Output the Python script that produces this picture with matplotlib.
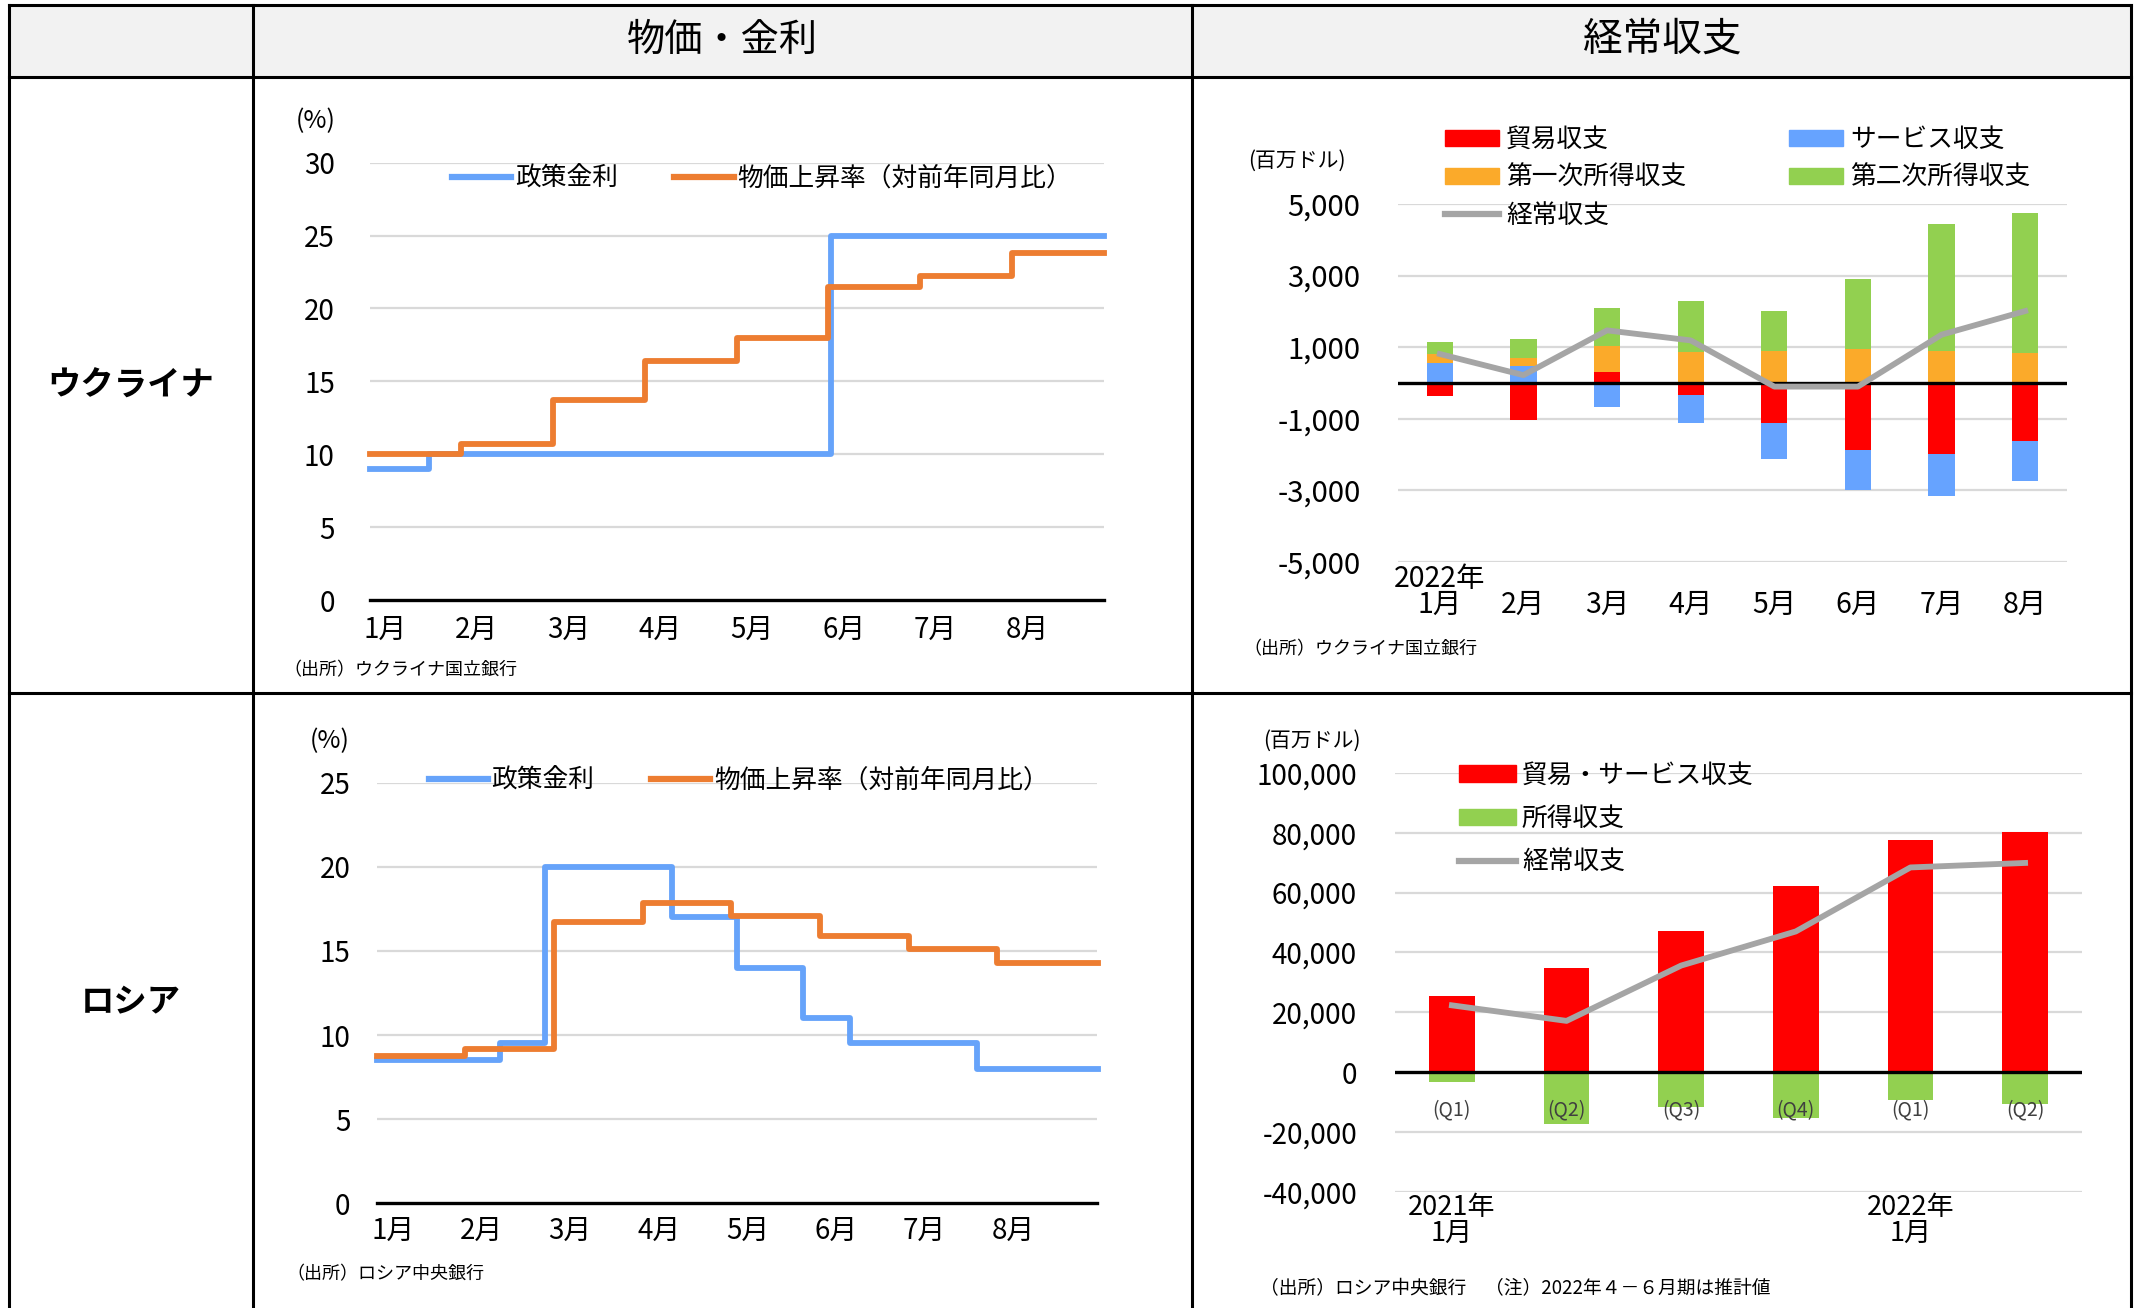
import matplotlib
matplotlib.use('Agg')
import matplotlib.pyplot as plt
from matplotlib.lines import Line2D
from matplotlib.patches import Rectangle, Patch
import numpy as np
import pandas as pd

plt.rcParams['font.family'] = ['Noto Sans CJK JP', 'DejaVu Sans']
plt.rcParams['axes.unicode_minus'] = False

W, H, DPI = 2136, 1308, 100

# ---------------- data ----------------
header_titles = ['物価・金利', '経常収支']
row_titles = ['ウクライナ', 'ロシア']
month_labels = ['1月', '2月', '3月', '4月', '5月', '6月', '7月', '8月']
rate_legend = ['政策金利', '物価上昇率（対前年同月比）']

# Ukraine: policy rate / CPI (%), step changes by date
ua_rate_dates = ['2022-01-01', '2022-01-21', '2022-06-02', '2022-09-01']
ua_rate_values = [9.0, 10.0, 25.0, 25.0]
ua_cpi_dates = ['2022-01-01', '2022-02-01', '2022-03-01', '2022-04-01', '2022-05-01',
                '2022-06-01', '2022-07-01', '2022-08-01', '2022-09-01']
ua_cpi_values = [10.0, 10.7, 13.7, 16.4, 18.0, 21.5, 22.2, 23.8, 23.8]

# Russia: policy rate / CPI (%)
ru_rate_dates = ['2022-01-01', '2022-02-12', '2022-02-26', '2022-04-11', '2022-05-03',
                 '2022-05-26', '2022-06-11', '2022-07-25', '2022-09-05']
ru_rate_values = [8.5, 9.5, 20.0, 17.0, 14.0, 11.0, 9.5, 8.0, 8.0]
ru_cpi_dates = ['2022-01-01', '2022-02-01', '2022-03-01', '2022-04-01', '2022-05-01',
                '2022-06-01', '2022-07-01', '2022-08-01', '2022-09-05']
ru_cpi_values = [8.73, 9.15, 16.69, 17.83, 17.1, 15.9, 15.1, 14.3, 14.3]

# Ukraine current account (million USD)
ua_ca_labels = ['2022年\n1月', '2月', '3月', '4月', '5月', '6月', '7月', '8月']
ua_ca_legend = ['貿易収支', 'サービス収支', '第一次所得収支', '第二次所得収支', '経常収支']
ua_trade = [-360, -1030, 310, -330, -1110, -1860, -1990, -1630]
ua_services = [550, 470, -660, -780, -1020, -1140, -1180, -1110]
ua_primary = [260, 240, 720, 860, 880, 940, 890, 830]
ua_secondary = [330, 510, 1070, 1430, 1130, 1960, 3560, 3920]
ua_current = [810, 220, 1470, 1190, -100, -100, 1350, 2010]
ua_ca_ticks = [-5000, -3000, -1000, 1000, 3000, 5000]

# Russia current account (million USD), quarterly
ru_quarters = ['(Q1)', '(Q2)', '(Q3)', '(Q4)', '(Q1)', '(Q2)']
ru_year_labels = ['2021年\n1月', '', '', '', '2022年\n1月', '']
ru_ca_legend = ['貿易・サービス収支', '所得収支', '経常収支']
ru_goods_services = [25500, 34700, 47200, 62100, 77500, 80400]
ru_income = [-3400, -17500, -11800, -15300, -9300, -10600]
ru_current = [22300, 17100, 35600, 47000, 68400, 69900]
ru_ca_ticks = [-40000, -20000, 0, 20000, 40000, 60000, 80000, 100000]

source_ua = '（出所）ウクライナ国立銀行'
source_ru_rate = '（出所）ロシア中央銀行'
source_ru_ca = '（出所）ロシア中央銀行　（注）2022年４－６月期は推計値'

# ---------------- styles ----------------
C_BLUE = '#66A3FA'
C_ORANGE = '#ED7D31'
C_RED = '#FF0000'
C_SBLUE = '#66A3FF'
C_YEL = '#FBAA2A'
C_GREEN = '#92D050'
C_GRAY = '#A5A5A5'
C_GRID = '#D9D9D9'


def fx(x):
    return x / W


def fy(y):
    return 1 - y / H


def month_pos(dates):
    d = pd.to_datetime(pd.Series(dates))
    return ((d.dt.month - 1) + (d.dt.day - 1) / d.dt.days_in_month).to_numpy(dtype=float)


fig = plt.figure(figsize=(W / DPI, H / DPI), dpi=DPI)
fig.patch.set_facecolor('white')

# ---------------- table frame ----------------
fig.add_artist(Rectangle((fx(9), fy(77)), fx(2131) - fx(9), fy(5) - fy(77),
                         transform=fig.transFigure, facecolor='#F2F2F2',
                         edgecolor='none', zorder=0))
for yy in [5, 77, 693]:
    fig.add_artist(Line2D([fx(9), fx(2131)], [fy(yy), fy(yy)], transform=fig.transFigure,
                          color='black', lw=2.2, zorder=10))
for xx in [9, 253, 1192, 2131]:
    fig.add_artist(Line2D([fx(xx), fx(xx)], [fy(5), fy(1320)], transform=fig.transFigure,
                          color='black', lw=2.2, zorder=10))

fig.text(fx(722), fy(40), header_titles[0], fontsize=27.5, ha='center', va='center')
fig.text(fx(1662), fy(40), header_titles[1], fontsize=28.5, ha='center', va='center')
fig.text(fx(131), fy(386), row_titles[0], fontsize=24, fontweight='bold', ha='center', va='center')
fig.text(fx(131), fy(1003), row_titles[1], fontsize=24, fontweight='bold', ha='center', va='center')


def add_ax(L, T, R, B):
    ax = fig.add_axes([fx(L), fy(B), fx(R) - fx(L), fy(T) - fy(B)])
    ax.set_facecolor('none')
    for s in ax.spines.values():
        s.set_visible(False)
    ax.tick_params(length=0)
    return ax


def rates_chart(ax, rd, rv, cd, cv, ymax, xmax, tick_off, ypad, xpad, leg_xy):
    ax.set_ylim(0, ymax)
    ax.set_xlim(0, xmax)
    yt = np.arange(0, ymax + 1, 5)
    ax.set_yticks(yt)
    ax.set_yticklabels([f'{int(v)}' for v in yt], fontsize=20)
    ax.set_xticks(np.arange(len(month_labels)) + tick_off)
    ax.set_xticklabels(month_labels, fontsize=20)
    ax.tick_params(axis='y', pad=ypad)
    ax.tick_params(axis='x', pad=xpad)
    for v in yt[1:]:
        ax.axhline(v, color=C_GRID, lw=1.6, zorder=1)
    ax.axhline(0, color='black', lw=2.4, zorder=2, clip_on=False)
    ax.plot(month_pos(rd), rv, drawstyle='steps-post', color=C_BLUE, lw=4.2,
            zorder=4, clip_on=False, solid_joinstyle='round')
    ax.plot(month_pos(cd), cv, drawstyle='steps-post', color=C_ORANGE, lw=4.2,
            zorder=5, clip_on=False, solid_joinstyle='round')
    handles = [Line2D([], [], color=C_BLUE, lw=4.5), Line2D([], [], color=C_ORANGE, lw=4.5)]
    ax.legend(handles, rate_legend, ncol=2, loc='center left',
              bbox_to_anchor=(fx(leg_xy[0]), fy(leg_xy[1])), bbox_transform=fig.transFigure,
              frameon=False, fontsize=18.5, handlelength=2.3, handletextpad=0.15,
              columnspacing=2.2, borderpad=0, borderaxespad=0)


# ---------------- Ukraine rates ----------------
ax1 = add_ax(369.5, 162.7, 1103.5, 600)
rates_chart(ax1, ua_rate_dates, ua_rate_values, ua_cpi_dates, ua_cpi_values,
            30, 8.0, 0.17, 25, 11, (452, 179))
fig.text(fx(316), fy(121), '(%)', fontsize=18, ha='center', va='center')
fig.text(fx(283), fy(670), source_ua, fontsize=13, ha='left', va='center')

# ---------------- Russia rates ----------------
ax3 = add_ax(376.8, 782.6, 1097.4, 1203.3)
rates_chart(ax3, ru_rate_dates, ru_rate_values, ru_cpi_dates, ru_cpi_values,
            25, 8.13, 0.18, 19, 9, (428.5, 781))
fig.text(fx(330), fy(741), '(%)', fontsize=18, ha='center', va='center')
fig.text(fx(286), fy(1274), source_ru_rate, fontsize=13, ha='left', va='center')


def stacked(ax, x, series, colors, width):
    pos = np.zeros(len(x))
    neg = np.zeros(len(x))
    for vals, c in zip(series, colors):
        vals = np.asarray(vals, dtype=float)
        bottom = np.where(vals >= 0, pos, neg)
        ax.bar(x, vals, width, bottom=bottom, color=c, zorder=2, linewidth=0)
        pos = np.where(vals >= 0, pos + vals, pos)
        neg = np.where(vals < 0, neg + vals, neg)


# ---------------- Ukraine current account ----------------
ax2 = add_ax(1398, 204, 2067, 562)
xu = np.arange(len(ua_ca_labels))
ax2.set_xlim(-0.5, len(xu) - 0.5)
ax2.set_ylim(-5000, 5000)
stacked(ax2, xu, [ua_trade, ua_services, ua_primary, ua_secondary],
        [C_RED, C_SBLUE, C_YEL, C_GREEN], 0.315)
for v in ua_ca_ticks:
    ax2.axhline(v, color=C_GRID, lw=1.6, zorder=1)
ax2.axhline(0, color='black', lw=2.4, zorder=3)
ax2.plot(xu, ua_current, color=C_GRAY, lw=4.2, zorder=4, solid_joinstyle='round')
ax2.set_yticks(ua_ca_ticks)
ax2.set_yticklabels([f'{v:,}' for v in ua_ca_ticks], fontsize=21)
ax2.tick_params(axis='y', pad=27)
ax2.set_xticks(xu)
ax2.set_xticklabels(ua_ca_labels, fontsize=20.5, linespacing=0.82)
ax2.tick_params(axis='x', pad=42)
plt.setp(ax2.get_xticklabels(), va='bottom')
h_ua = [Patch(color=C_RED), Patch(color=C_YEL), Line2D([], [], color=C_GRAY, lw=4.5),
        Patch(color=C_SBLUE), Patch(color=C_GREEN)]
l_ua = [ua_ca_legend[0], ua_ca_legend[2], ua_ca_legend[4], ua_ca_legend[1], ua_ca_legend[3]]
ax2.legend(h_ua, l_ua, ncol=2, loc='center left',
           bbox_to_anchor=(fx(1444.8), fy(178)), bbox_transform=fig.transFigure,
           frameon=False, fontsize=18.5, handlelength=2.1, handleheight=0.6,
           handletextpad=0.28, columnspacing=4.0, labelspacing=0.46,
           borderpad=0, borderaxespad=0)
fig.text(fx(1297), fy(161), '(百万ドル)', fontsize=15, ha='center', va='center')
fig.text(fx(1243), fy(649), source_ua, fontsize=13, ha='left', va='center')

# ---------------- Russia current account ----------------
ax4 = add_ax(1394.6, 772.9, 2082.4, 1191.7)
xr = np.arange(len(ru_quarters))
ax4.set_xlim(-0.5, len(xr) - 0.5)
ax4.set_ylim(-40000, 100000)
stacked(ax4, xr, [ru_goods_services, ru_income], [C_RED, C_GREEN], 0.40)
for v in ru_ca_ticks:
    if v != 0:
        ax4.axhline(v, color=C_GRID, lw=1.6, zorder=1)
ax4.axhline(0, color='black', lw=2.4, zorder=3)
ax4.plot(xr, ru_current, color=C_GRAY, lw=4.2, zorder=4, solid_joinstyle='round')
ax4.set_yticks(ru_ca_ticks)
ax4.set_yticklabels([f'{v:,}' for v in ru_ca_ticks], fontsize=20)
ax4.tick_params(axis='y', pad=27)
ax4.set_xticks(xr)
ax4.set_xticklabels(ru_year_labels, fontsize=19.5, linespacing=0.95)
ax4.tick_params(axis='x', pad=1.5)
for i, q in enumerate(ru_quarters):
    ax4.annotate(q, xy=(xr[i], 0), xytext=(0, -27), textcoords='offset points',
                 ha='center', va='center', fontsize=14, color='#404040', zorder=5)
h_ru = [Patch(color=C_RED), Patch(color=C_GREEN), Line2D([], [], color=C_GRAY, lw=4.5)]
ax4.legend(h_ru, ru_ca_legend, ncol=1, loc='center left',
           bbox_to_anchor=(fx(1459), fy(819)), bbox_transform=fig.transFigure,
           frameon=False, fontsize=18.5, handlelength=2.2, handleheight=0.6,
           handletextpad=0.25, labelspacing=0.68, borderpad=0, borderaxespad=0)
fig.text(fx(1312), fy(741), '(百万ドル)', fontsize=15, ha='center', va='center')
fig.text(fx(1260), fy(1289), source_ru_ca, fontsize=13.5, ha='left', va='center')

fig.savefig('out.png', dpi=DPI, facecolor='white')
